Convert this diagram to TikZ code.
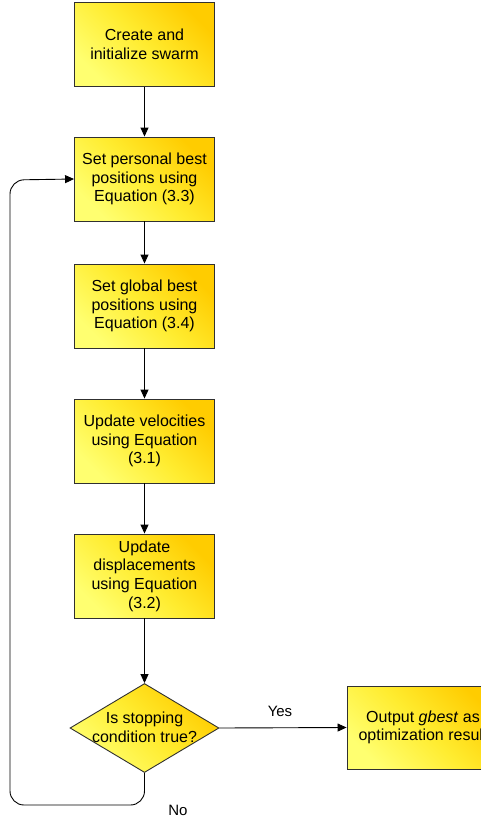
\documentclass[tikz,border=0pt]{standalone}
\usepackage{fontspec}
\setmainfont{Liberation Sans}
\usetikzlibrary{arrows.meta,shapes.geometric}
\definecolor{goldtop}{HTML}{FFCC00}
\definecolor{goldmid}{HTML}{FFEC30}
\definecolor{goldlow}{HTML}{FFFF70}
\definecolor{edgegray}{HTML}{303030}
\tikzset{
  goldfill/.style={top color=goldtop, bottom color=goldlow, middle color=goldmid, shading angle=-45},
  boxtext/.style={font=\fontsize{16pt}{18.6pt}\selectfont},
  stepbox/.style={draw=edgegray, line width=0.9pt, goldfill, minimum width=140pt, minimum height=84pt,
    inner sep=2pt, align=center, boxtext},
  decision/.style={diamond, draw=edgegray, line width=0.9pt, goldfill, inner sep=0pt, aspect=1.67},
  flow/.style={draw=black, line width=0.9pt, -{Triangle[length=9pt,width=8pt]}},
  lbl/.style={font=\fontsize{15pt}{16pt}\selectfont}
}
\begin{document}
\begin{tikzpicture}[x=1pt,y=-1pt]
\useasboundingbox (0,0) rectangle (481,820);
\clip (0,0) rectangle (481,820);
\fill[white] (0,0) rectangle (481,820);

\node[stepbox] (create) at (144.5,44.5) {Create and\\initialize swarm};
\node[stepbox] (pbest) at (144.5,179) {Set personal best\\positions using\\Equation (3.3)};
\node[stepbox] (gbest) at (144.5,306) {Set global best\\positions using\\Equation (3.4)};
\node[stepbox] (vel) at (144.5,441) {Update velocities\\using Equation\\(3.1)};
\node[stepbox] (disp) at (144.5,576) {Update\\displacements\\using Equation\\(3.2)};
\node[decision, minimum width=149pt, minimum height=89pt] (stop) at (144.5,728) {};
\node[boxtext, align=center] (stoptext) at (144.5,727) {Is stopping\\condition true?};
\node[stepbox, minimum width=152pt, minimum height=83pt] (out) at (423,727.5) {Output \textit{gbest} as\\optimization result};

\draw[flow] (create) -- (pbest);
\draw[flow] (pbest) -- (gbest);
\draw[flow] (gbest) -- (vel);
\draw[flow] (vel) -- (disp);
\draw[flow] (disp) -- (stop);
\draw[flow] (stop.east) -- (out.west);

\coordinate (lowturn) at (144.5,805);
\coordinate (leftlow) at (10,805);
\coordinate (lefttop) at (10,180);
\draw[flow, rounded corners=14pt] (stop.south) -- (lowturn) -- (leftlow) -- (lefttop) -- (pbest.west);

\node[lbl] (yes) at (280,711) {Yes};
\node[lbl] (no) at (178,810) {No};
\end{tikzpicture}
\end{document}
